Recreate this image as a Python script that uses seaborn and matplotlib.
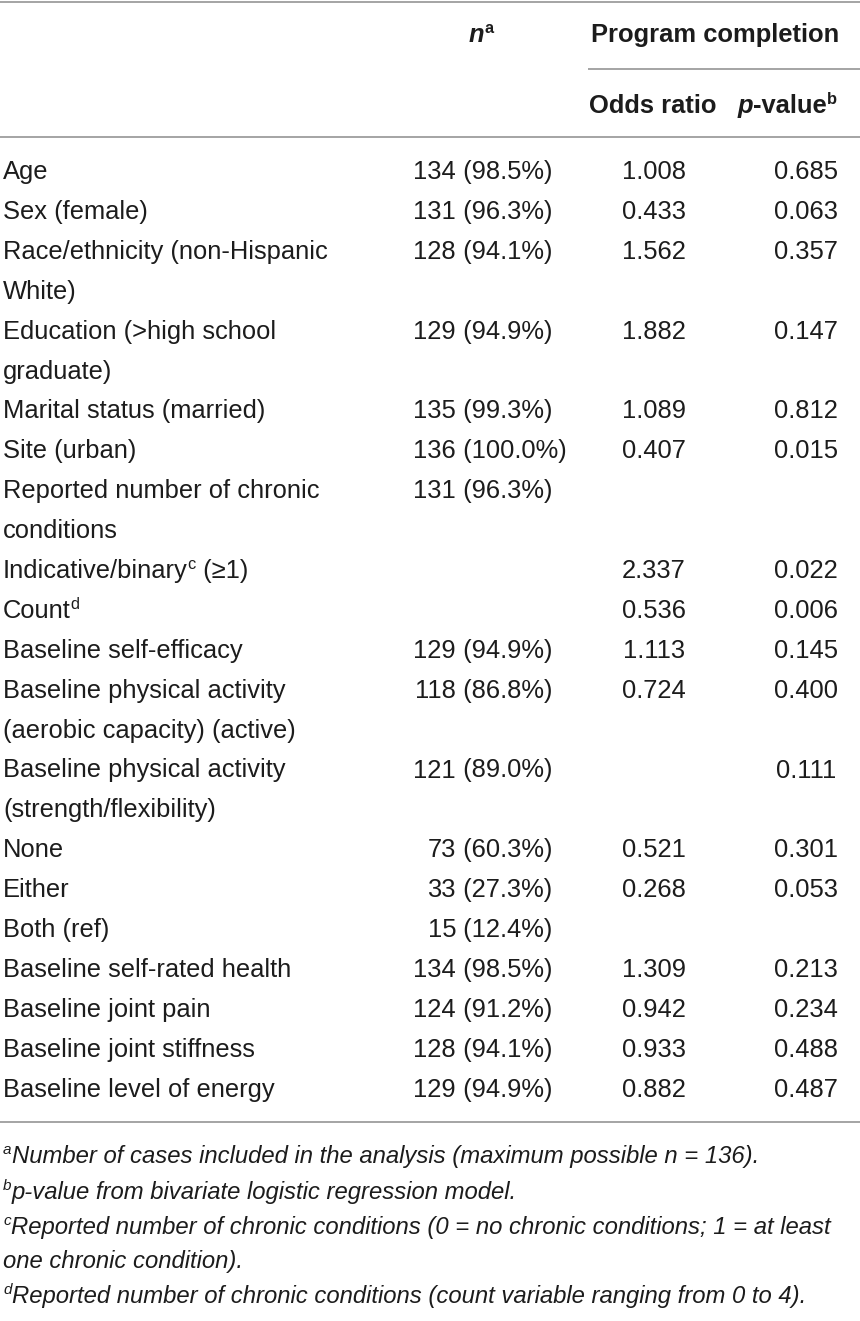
import re
import numpy as np
import pandas as pd
import matplotlib
matplotlib.use("Agg")
import matplotlib.pyplot as plt
import seaborn as sns

# --- table content ---
row_labels = [
    "Age", "Sex (female)", "Race/ethnicity (non-Hispanic\nWhite)",
    "Education (>high school\ngraduate)", "Marital status (married)", "Site (urban)",
    "Reported number of chronic\nconditions", "Indicative/binary^c (≥1)", "Count^d",
    "Baseline self-efficacy", "Baseline physical activity\n(aerobic capacity) (active)",
    "Baseline physical activity\n(strength/flexibility)", "None", "Either", "Both (ref)",
    "Baseline self-rated health", "Baseline joint pain", "Baseline joint stiffness",
    "Baseline level of energy",
]
n_count = [134, 131, 128, 129, 135, 136, 131, None, None, 129, 118, 121, 73, 33, 15,
           134, 124, 128, 129]
n_pct = [98.5, 96.3, 94.1, 94.9, 99.3, 100.0, 96.3, None, None, 94.9, 86.8, 89.0, 60.3,
         27.3, 12.4, 98.5, 91.2, 94.1, 94.9]
odds_ratio = [1.008, 0.433, 1.562, 1.882, 1.089, 0.407, None, 2.337, 0.536, 1.113, 0.724,
              None, 0.521, 0.268, None, 1.309, 0.942, 0.933, 0.882]
p_value = [0.685, 0.063, 0.357, 0.147, 0.812, 0.015, None, 0.022, 0.006, 0.145, 0.400,
           0.111, 0.301, 0.053, None, 0.213, 0.234, 0.488, 0.487]

n_header = "_n_^a"
group_header = "Program completion"
sub_headers = ["Odds ratio", "_p_-value^b"]

footnotes = [
    "^aNumber of cases included in the analysis (maximum possible n = 136).",
    "^bp-value from bivariate logistic regression model.",
    "^cReported number of chronic conditions (0 = no chronic conditions; 1 = at least",
    "one chronic condition).",
    "^dReported number of chronic conditions (count variable ranging from 0 to 4).",
]

df = pd.DataFrame({"label": row_labels, "n": n_count, "pct": n_pct,
                   "odds": odds_ratio, "p": p_value})

sns.set_theme(style="white")
plt.rcParams["font.family"] = ["Liberation Sans", "DejaVu Sans"]

W, H, DPI = 860, 1321, 100
fig = plt.figure(figsize=(W / DPI, H / DPI), dpi=DPI)
ax = fig.add_axes([0, 0, 1, 1])
ax.set_xlim(0, W)
ax.set_ylim(H, 0)
ax.axis("off")
renderer = fig.canvas.get_renderer()

TXT = "#1c1c1c"
RULE = "#a6a6a6"
BODY = 18.4
NOTE = 17.2
PX = DPI / 72


def draw_rich(x, y, markup, size, weight="normal", style="normal", ha="left"):
    # tiny markup: ^x = superscript, _txt_ = italic
    parts = []
    for sup, ital, plain in re.findall(r"\^(\w)|_([^_]+)_|([^_^]+)", markup):
        if sup:
            parts.append((sup, style, True))
        elif ital:
            parts.append((ital, "italic", False))
        else:
            parts.append((plain, style, False))
    texts, widths = [], []
    for s, st, is_sup in parts:
        fs = size * 0.64 if is_sup else size
        yy = y - 0.36 * size * PX if is_sup else y
        t = ax.text(0, yy, s, fontsize=fs, fontweight=weight, fontstyle=st,
                    va="baseline", ha="left", color=TXT)
        texts.append(t)
        widths.append(t.get_window_extent(renderer).width)
    total = sum(widths)
    x0 = {"left": x, "center": x - total / 2, "right": x - total}[ha]
    for t, w in zip(texts, widths):
        t.set_x(x0)
        x0 += w


# rules
lw = 2 * 72 / DPI
ax.hlines(2, 0, W, color=RULE, lw=lw)
ax.hlines(69, 588, W, color=RULE, lw=lw)
ax.hlines(137, 0, W, color=RULE, lw=lw)
ax.hlines(1122, 0, W, color=RULE, lw=lw)

# header
draw_rich(481, 42, n_header, BODY, weight="bold", ha="center")
draw_rich(715, 42, group_header, BODY, weight="bold", ha="center")
draw_rich(653, 113, sub_headers[0], BODY, weight="bold", ha="center")
draw_rich(787, 113, sub_headers[1], BODY, weight="bold", ha="center")

# body rows
base0, step = 179, 39.9
line = 0
for _, r in df.iterrows():
    y = base0 + step * line
    lines = r["label"].split("\n")
    for k, txt in enumerate(lines):
        draw_rich(3, y + step * k, txt, BODY)
    if pd.notna(r["n"]):
        ax.text(456, y, f"{int(r['n'])}", fontsize=BODY, ha="right", va="baseline", color=TXT)
        ax.text(456, y, f" ({r['pct']:.1f}%)", fontsize=BODY, ha="left", va="baseline", color=TXT)
    if pd.notna(r["odds"]):
        ax.text(654, y, f"{r['odds']:.3f}", fontsize=BODY, ha="center", va="baseline", color=TXT)
    if pd.notna(r["p"]):
        ax.text(806, y, f"{r['p']:.3f}", fontsize=BODY, ha="center", va="baseline", color=TXT)
    line += len(lines)

# footnotes
fy = [1163, 1199, 1234, 1268, 1303]
for y, note in zip(fy, footnotes):
    draw_rich(3, y, note, NOTE, style="italic")

fig.savefig("out.png", dpi=DPI, facecolor="white")
